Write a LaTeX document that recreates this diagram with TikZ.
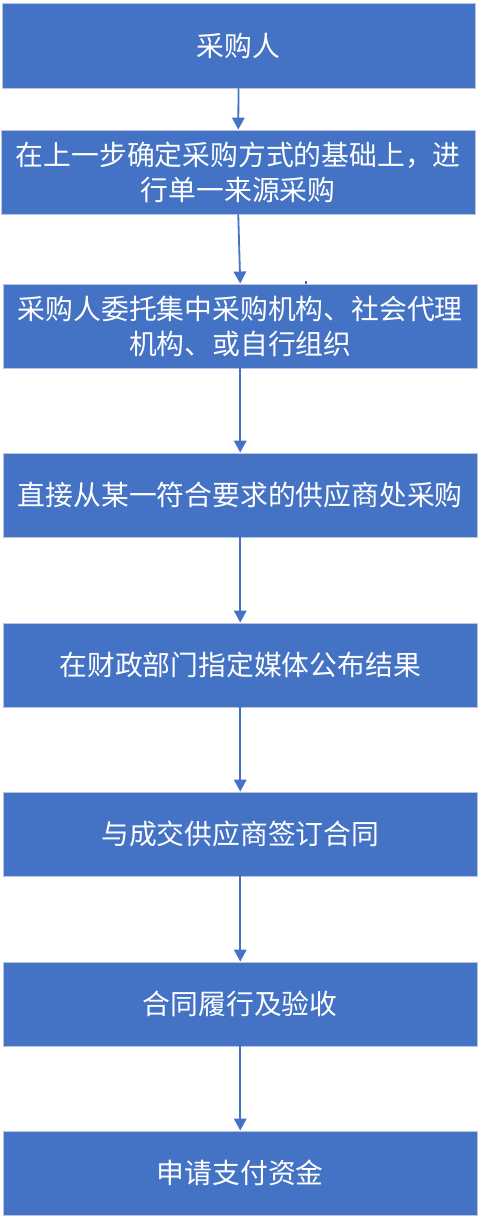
\documentclass[tikz,border=0pt]{standalone}
\usepackage{fontspec}
\newfontfamily\cjk{Noto Sans CJK SC}
\usetikzlibrary{arrows.meta}
\definecolor{boxblue}{HTML}{4472C4}
\definecolor{boxedge}{RGB}{185,198,222}
\begin{document}
\begin{tikzpicture}[x=1pt,y=-1pt,
  stepbox/.style={rectangle, fill=boxblue, draw=boxedge, line width=0.9pt,
    minimum width=473.5pt, minimum height=84pt, inner sep=0pt,
    text=white, align=center,
    font=\cjk\fontsize{27.8pt}{35pt}\selectfont},
  flow/.style={draw=boxblue, line width=1.8pt,
    -{Triangle[width=12.5pt,length=12pt]}, shorten >=0pt}]
\useasboundingbox (0,0) rectangle (479,1219);
\node[stepbox, minimum width=473pt, minimum height=85pt] (b1) at (238.5,45.5) {采购人};
\node[stepbox] (b2) at (238.25,172) {在上一步确定采购方式的基础上，进\\行单一来源采购};
\node[stepbox] (b3) at (240.25,326) {采购人委托集中采购机构、社会代理\\机构、或自行组织};
\node[stepbox] (b4) at (240.25,495) {直接从某一符合要求的供应商处采购};
\node[stepbox] (b5) at (240.25,665) {在财政部门指定媒体公布结果};
\node[stepbox] (b6) at (240.25,834) {与成交供应商签订合同};
\node[stepbox] (b7) at (240.25,1004) {合同履行及验收};
\node[stepbox] (b8) at (240.25,1173) {申请支付资金};
\draw[flow] (b1.south) -- (b2.north);
\draw[flow] (b2.south) -- (b3.north);
\draw[flow] (b3.south) -- (b4.north);
\draw[flow] (b4.south) -- (b5.north);
\draw[flow] (b5.south) -- (b6.north);
\draw[flow] (b6.south) -- (b7.north);
\draw[flow] (b7.south) -- (b8.north);
\coordinate (tick) at (306,280.5);
\draw[boxblue, line width=1.2pt] (tick) -- (tick |- b3.north);
\end{tikzpicture}
\end{document}
